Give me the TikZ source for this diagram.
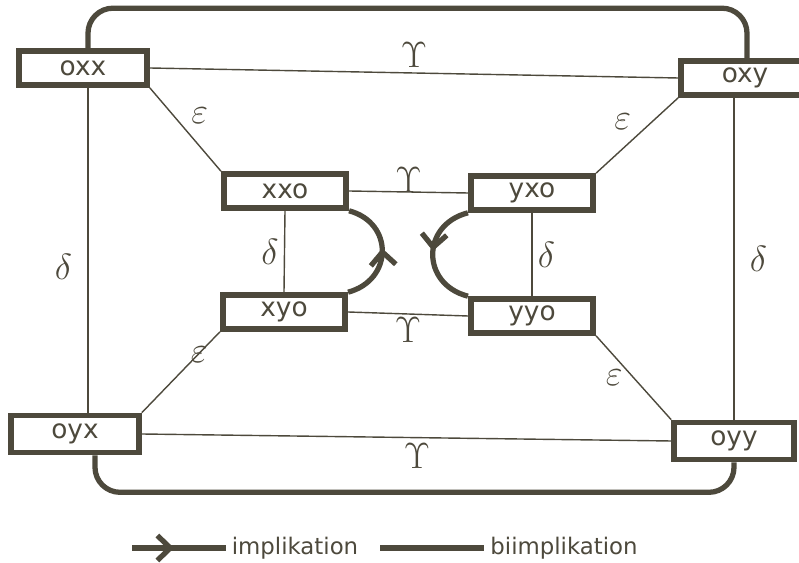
\documentclass[tikz,border=0pt]{standalone}
\usepackage{fontspec}
\setsansfont{DejaVu Sans}
\usetikzlibrary{arrows.meta,decorations.markings}
\definecolor{ink}{HTML}{4D493C}

\begin{document}
\begin{tikzpicture}[x=0.02cm, y=-0.02cm,
  font=\sffamily\fontsize{15}{18}\selectfont, ink,
  state/.style={draw=ink, line width=3.2pt, minimum width=2.56cm,
                minimum height=0.68cm, inner sep=2pt, fill=white},
  rel/.style={draw=ink, line width=0.8pt},
  loopline/.style={draw=ink, line width=3pt, rounded corners=0.5cm},
  implies/.style={draw=ink, line width=3pt,
    decoration={markings, mark=at position #1 with
      {\arrow{Straight Barb[length=2.6mm, width=5mm, line width=3pt]}}},
    postaction=decorate},
  implies/.default=0.5,
  lab/.style={font=\fontsize{20}{22}\selectfont, text=ink, inner sep=3pt},
]
\useasboundingbox (0,0) rectangle (799,563);

% ---- outer states -----------------------------------------------------------
\node[state] (oxx) at (83,68)   {oxx};
\node[state] (oxy) at (745,78)  {oxy};
\node[state, minimum height=0.74cm] (oyx) at (75,434)  {oyx};
\node[state, minimum height=0.74cm, minimum width=2.4cm] (oyy) at (734,441) {oyy};

% ---- inner states -----------------------------------------------------------
\node[state, minimum width=2.45cm] (xxo) at (285,191) {xxo};
\node[state, minimum width=2.45cm] (yxo) at (532,193) {yxo};
\node[state, minimum width=2.45cm] (xyo) at (284,312) {xyo};
\node[state, minimum width=2.45cm] (yyo) at (532,316) {yyo};

% ---- the big loop round the outside ------------------------------------------
\draw[loopline] ([xshift=0.1cm]oxx.north) -- ++(0,-40) -| ([xshift=0.04cm]oxy.north);
\draw[loopline] ([xshift=0.4cm]oyx.south) -- ++(0,37) -| (oyy.south);

% ---- outer relations --------------------------------------------------------
\draw[rel] (oxx.east) -- (oxy.west)
  node[lab, pos=0.5, above] {$\Upsilon$};
\draw[rel] (oyx.east) -- (oyy.west)
  node[lab, pos=0.52, below] {$\Upsilon$};
\draw[rel] ([xshift=0.1cm]oxx.south) -- ([xshift=0.1cm]oxx.south |- oyx.north)
  node[lab, pos=0.55, left, xshift=-0.2cm] {$\delta$};
\draw[rel] (oyy.north) -- (oyy.north |- oxy.south)
  node[lab, pos=0.5, right, xshift=0.2cm] {$\delta$};

% ---- diagonals --------------------------------------------------------------
\draw[rel] (oxx.south east) -- (xxo.north west)
  node[lab, pos=0.5, above right] {$\varepsilon$};
\draw[rel] (oxy.south west) -- (yxo.north east)
  node[lab, pos=0.5, above left] {$\varepsilon$};
\draw[rel] (xyo.south west) -- (oyx.north east)
  node[lab, pos=0.45, above right] {$\varepsilon$};
\draw[rel] (yyo.south east) -- (oyy.north west)
  node[lab, pos=0.5, left, xshift=-0.1cm] {$\varepsilon$};

% ---- inner relations --------------------------------------------------------
\draw[rel] (xxo.east) -- (yxo.west)
  node[lab, pos=0.5, above, yshift=-0.12cm] {$\Upsilon$};
\draw[rel] (xyo.east) -- (yyo.west)
  node[lab, pos=0.5, below, yshift=0.05cm] {$\Upsilon$};
\draw[rel] (xxo.south) -- (xyo.north)
  node[lab, pos=0.5, left] {$\delta$};
\draw[rel] (yxo.south) -- (yyo.north)
  node[lab, pos=0.5, right] {$\delta$};

% ---- implications -----------------------------------------------------------
\draw[implies=0.53] (xyo.north east) .. controls +(45,-12) and +(45,12) .. (xxo.south east);
\draw[implies=0.47] (yxo.south west) .. controls +(-47,12) and +(-47,-12) .. (yyo.north west);

% ---- legend -----------------------------------------------------------------
\node[font=\sffamily\fontsize{13}{15}\selectfont] (impl) at (295,548) {implikation};
\node[font=\sffamily\fontsize{13}{15}\selectfont] (biimpl) at (564,548) {biimplikation};
\coordinate (implstart) at (132,548);
\coordinate (biimplstart) at (380,548);
\draw[implies=0.45] (implstart) -- (impl.west);
\draw[draw=ink, line width=3pt] (biimplstart) -- (biimpl.west);

\end{tikzpicture}
\end{document}
